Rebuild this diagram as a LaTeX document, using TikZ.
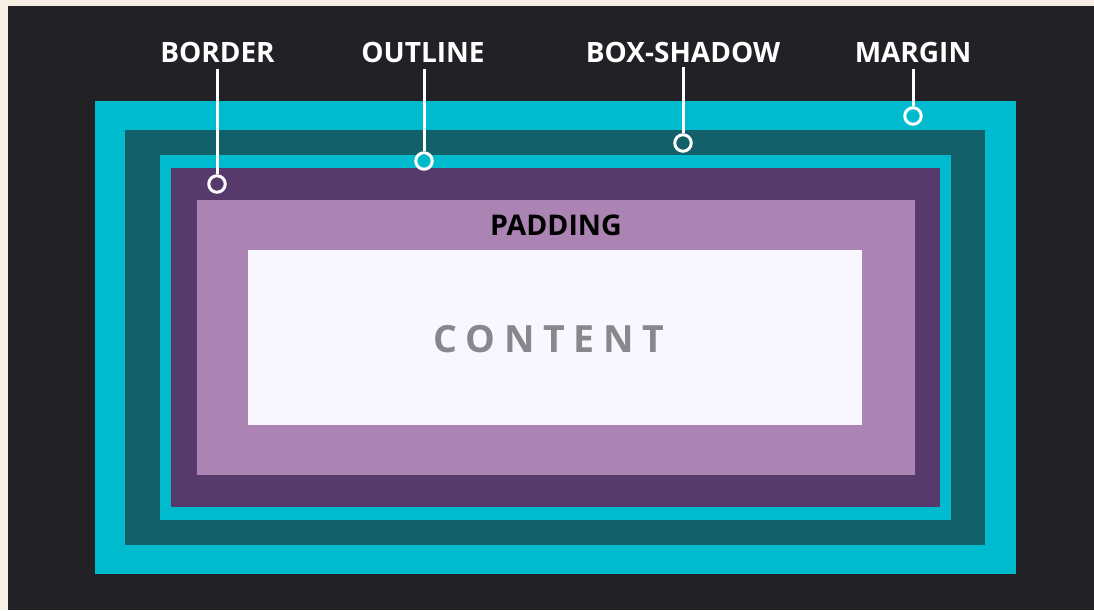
\documentclass[tikz,border=0pt]{standalone}
\usepackage{fontspec}
\setmainfont{Open Sans}
\usetikzlibrary{calc}
\definecolor{cream}{HTML}{F7EFE3}
\definecolor{bgdark}{HTML}{222226}
\definecolor{cyanbox}{HTML}{00BBCD}
\definecolor{tealbox}{HTML}{14606A}
\definecolor{purplebox}{HTML}{563A6B}
\definecolor{lavbox}{HTML}{AC84B3}
\definecolor{contentbox}{HTML}{F8F6FE}
\definecolor{contentgray}{HTML}{88878C}
\tikzset{
  lbl/.style={text=white, font=\bfseries\fontsize{28}{30}\selectfont, inner sep=0pt, text depth=0pt, anchor=base},
  pin/.style={circle, draw=white, line width=3pt, minimum size=16.5pt, inner sep=0pt},
  lead/.style={draw=white, line width=3pt},
}
\begin{document}
\begin{tikzpicture}[x=1pt,y=-1pt]
\useasboundingbox (0,0) rectangle (1094,610);
\fill[cream] (0,0) rectangle (1094,610);
\fill[bgdark] (8,6) rectangle (1094,610);
% nested boxes
\fill[cyanbox] (95,101) rectangle (1016,574);
\fill[tealbox] (125,130) rectangle (985,545);
\fill[cyanbox] (160,155) rectangle (951,520);
\fill[purplebox] (171,168) rectangle (940,507);
\fill[lavbox] (197,200) rectangle (915,475);
\fill[contentbox] (248,250) rectangle (862,425);
% inner texts
\node[font=\bfseries\fontsize{28.5}{30}\selectfont, text=black, inner sep=0pt, anchor=base] (padding) at (556,235) {PADDING};
\node[font=\bfseries\fontsize{37.5}{40}\selectfont\addfontfeature{LetterSpace=23}, text=contentgray, inner sep=0pt, anchor=base] (content) at (549,352) {CONTENT};
% labels
\node[lbl] (lborder) at (217.5,63) {BORDER};
\node[lbl] (loutline) at (423,63) {OUTLINE};
\node[lbl] (lshadow) at (683,63) {BOX-SHADOW};
\node[lbl] (lmargin) at (913,63) {MARGIN};
% pins
\node[pin] (pborder) at (217,184) {};
\node[pin] (poutline) at (424,161) {};
\node[pin] (pshadow) at (683,143) {};
\node[pin] (pmargin) at (913,116) {};
% leads
\draw[lead] ([yshift=-6pt]lborder.base -| pborder) -- (pborder.north);
\draw[lead] ([yshift=-6pt]loutline.base -| poutline) -- (poutline.north);
\draw[lead] ([yshift=-4pt]lshadow.base -| pshadow) -- (pshadow.north);
\draw[lead] ([yshift=-6pt]lmargin.base -| pmargin) -- (pmargin.north);
\end{tikzpicture}
\end{document}
